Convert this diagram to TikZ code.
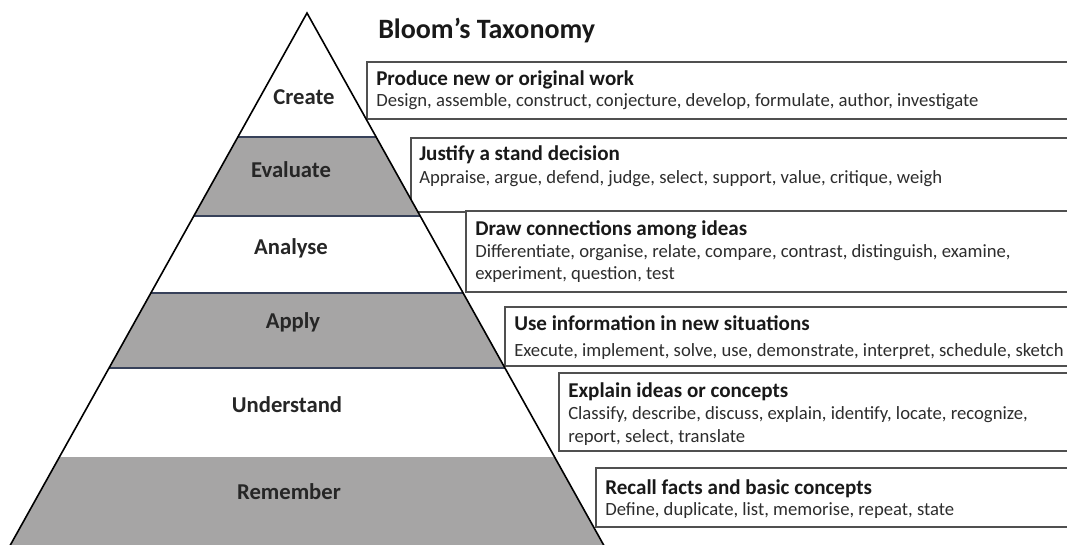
\documentclass[tikz,border=0pt]{standalone}
\usepackage{fontspec}
\setmainfont{Carlito}
\definecolor{pyrgray}{RGB}{166,165,165}
\definecolor{bandline}{RGB}{55,65,90}
\definecolor{boxline}{RGB}{80,80,80}
\definecolor{headc}{RGB}{25,25,25}
\definecolor{subc}{RGB}{45,45,45}
\begin{document}
\begin{tikzpicture}[x=0.75pt,y=-0.75pt,
  box/.style={draw=boxline, line width=1.5pt, fill=white},
  head/.style={anchor=base west, inner sep=0pt, font=\fontsize{15.8}{18}\selectfont\bfseries, text=headc},
  sub/.style={anchor=base west, inner sep=0pt, font=\fontsize{14}{16}\selectfont, text=subc},
  level/.style={anchor=base, inner sep=0pt, font=\fontsize{17}{20}\selectfont\bfseries, text=black!85},
  ttl/.style={anchor=base west, inner sep=0pt, font=\fontsize{21}{24}\selectfont\bfseries, text=black!90},
  band/.style={draw=bandline, line width=1.1pt},
  pyr/.style={draw=black, line width=1.2pt}]
\clip (0,0) rectangle (1067,544);
\fill[white] (0,0) rectangle (1067,544);

% title
\node[ttl] (title) at (378,38) {Bloom's Taxonomy};

% boxes
\path[box] (367,62) rectangle (1085,119);
\path[box] (411,138) rectangle (1085,212);
\path[box] (466,211) rectangle (1085,292);
\path[box] (505,307) rectangle (1085,366);
\path[box] (559,373) rectangle (1085,451);
\path[box] (596,468) rectangle (1085,527);

% box texts
\node[head] (cH) at (376,85.5) {Produce new or original work};
\node[sub]  (cS) at (376,106.5) {Design, assemble, construct, conjecture, develop, formulate, author, investigate};
\node[head] (eH) at (419,160.5) {Justify a stand decision};
\node[sub]  (eS) at (419,183.5) {Appraise, argue, defend, judge, select, support, value, critique, weigh};
\node[head] (aH) at (475,235) {Draw connections among ideas};
\node[sub]  (aS1) at (475,257.5) {Differentiate, organise, relate, compare, contrast, distinguish, examine,};
\node[sub]  (aS2) at (475,279) {experiment, question, test};
\node[head] (pH) at (514,330.5) {Use information in new situations};
\node[sub]  (pS) at (514,356.5) {Execute, implement, solve, use, demonstrate, interpret, schedule, sketch};
\node[head] (uH) at (568,397.5) {Explain ideas or concepts};
\node[sub]  (uS1) at (568,419.5) {Classify, describe, discuss, explain, identify, locate, recognize,};
\node[sub]  (uS2) at (568,442) {report, select, translate};
\node[head] (rH) at (605,494.5) {Recall facts and basic concepts};
\node[sub]  (rS) at (605,515.5) {Define, duplicate, list, memorise, repeat, state};

% pyramid
\coordinate (apex) at (307,13);
\coordinate (bl) at (2,560);
\coordinate (br) at (612,560);
\begin{scope}
  \clip (apex) -- (bl) -- (br) -- cycle;
  \fill[white] (0,0) rectangle (700,600);
  \fill[pyrgray] (0,137) rectangle (700,216);
  \fill[pyrgray] (0,293) rectangle (700,368);
  \fill[pyrgray] (0,457) rectangle (700,600);
  \draw[band] (0,137) -- (700,137);
  \draw[band] (0,216) -- (700,216);
  \draw[band] (0,293) -- (700,293);
  \draw[band] (0,368) -- (700,368);
\end{scope}
\draw[pyr] (bl) -- (apex) -- (br);

% level labels
\node[level] (lCreate) at (304,104) {Create};
\node[level] (lEvaluate) at (291,177) {Evaluate};
\node[level] (lAnalyse) at (291,254) {Analyse};
\node[level] (lApply) at (293,328) {Apply};
\node[level] (lUnderstand) at (287,412) {Understand};
\node[level] (lRemember) at (289,499) {Remember};
\end{tikzpicture}
\end{document}
